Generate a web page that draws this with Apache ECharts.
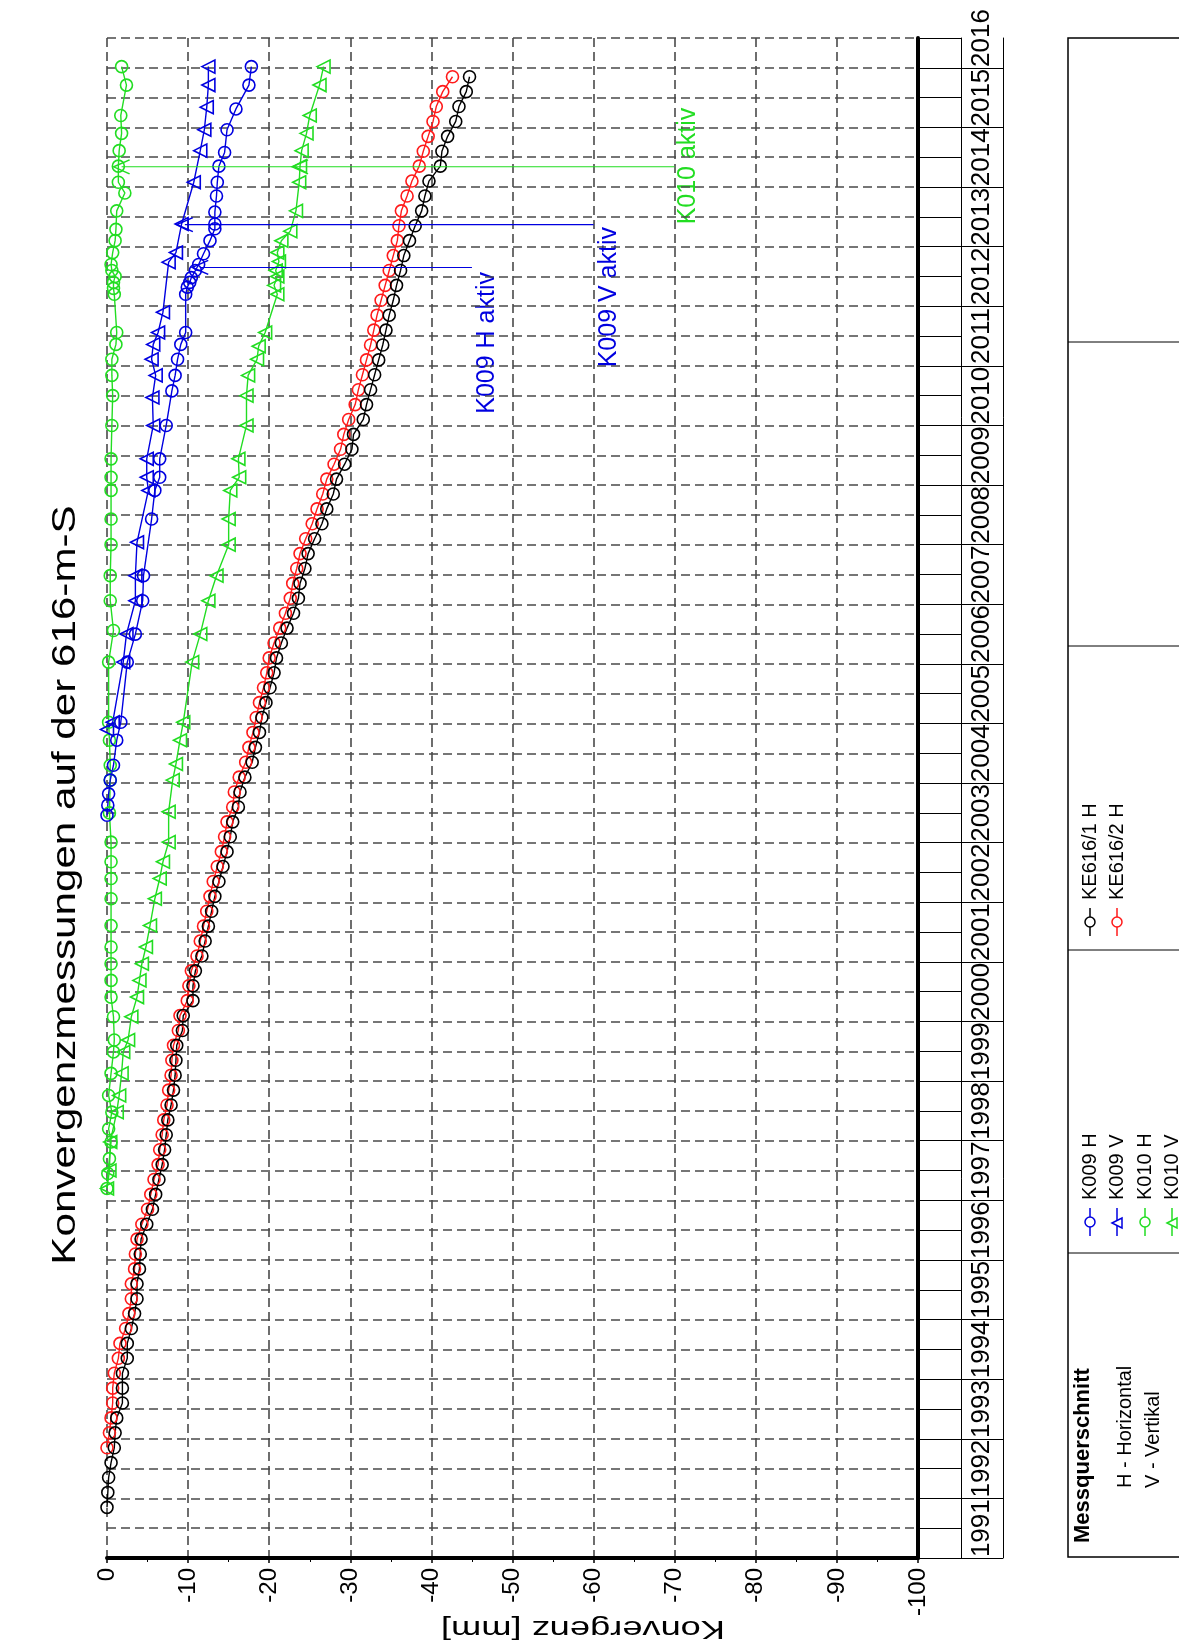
<!DOCTYPE html>
<html><head><meta charset="utf-8">
<script src="https://cdn.jsdelivr.net/npm/echarts@6/dist/echarts.min.js"></script>
<style>html,body{margin:0;padding:0;background:#fff}#c{width:1179px;height:1647px}</style>
</head><body><div id="c"></div>
<script>
// ---------- data ----------
const titleText = 'Konvergenzmessungen auf der 616-m-S';
const axisName = 'Konvergenz [mm]';
const yearLabels = [1991,1992,1993,1994,1995,1996,1997,1998,1999,2000,2001,2002,2003,2004,2005,2006,2007,2008,2009,2010,2011,2012,2013,2014,2015,2016];

const ke1_t = [1991.85,1992.1,1992.35,1992.6,1992.85,1993.1,1993.35,1993.6,1993.85,1994.1,1994.35,1994.6,1994.85,1995.1,1995.35,1995.6,1995.85,1996.1,1996.35,1996.6,1996.85,1997.1,1997.35,1997.6,1997.85,1998.1,1998.35,1998.6,1998.85,1999.1,1999.35,1999.6,1999.85,2000.1,2000.35,2000.6,2000.85,2001.1,2001.35,2001.6,2001.85,2002.1,2002.35,2002.6,2002.85,2003.1,2003.35,2003.6,2003.85,2004.1,2004.35,2004.6,2004.85,2005.1,2005.35,2005.6,2005.85,2006.1,2006.35,2006.6,2006.85,2007.1,2007.35,2007.6,2007.85,2008.1,2008.35,2008.6,2008.85,2009.1,2009.35,2009.6,2009.85,2010.1,2010.35,2010.6,2010.85,2011.1,2011.35,2011.6,2011.85,2012.1,2012.35,2012.6,2012.85,2013.1,2013.35,2013.6,2013.85,2014.1,2014.35,2014.6,2014.85,2015.1,2015.35,2015.6,2015.85];
const ke1_v = [0,-0.1,-0.2,-0.5,-0.9,-1.0,-1.2,-1.9,-1.9,-1.9,-2.5,-2.5,-3.0,-3.4,-3.7,-3.7,-4.0,-4.1,-4.2,-4.9,-5.6,-6.0,-6.4,-6.8,-7.1,-7.3,-7.5,-7.9,-8.2,-8.4,-8.5,-8.6,-9.3,-9.4,-10.6,-10.6,-10.9,-11.7,-12.1,-12.5,-12.9,-13.3,-13.8,-14.3,-14.8,-15.2,-15.5,-16.2,-16.4,-17.0,-17.9,-18.3,-18.8,-19.1,-19.6,-20.1,-20.6,-20.9,-21.5,-22.2,-23.0,-23.6,-23.8,-24.4,-24.8,-25.6,-26.5,-27.1,-27.9,-28.3,-29.3,-30.2,-30.4,-31.6,-32.0,-32.5,-33.0,-33.5,-34.0,-34.4,-34.8,-35.3,-35.7,-36.2,-36.6,-37.3,-38.0,-38.8,-39.2,-39.7,-41.1,-41.3,-42.0,-43.0,-43.4,-44.3,-44.7];

const ke2_t = [1992.85,1993.1,1993.35,1993.6,1993.85,1994.1,1994.35,1994.6,1994.85,1995.1,1995.35,1995.6,1995.85,1996.1,1996.35,1996.6,1996.85,1997.1,1997.35,1997.6,1997.85,1998.1,1998.35,1998.6,1998.85,1999.1,1999.35,1999.6,1999.85,2000.1,2000.35,2000.6,2000.85,2001.1,2001.35,2001.6,2001.85,2002.1,2002.35,2002.6,2002.85,2003.1,2003.35,2003.6,2003.85,2004.1,2004.35,2004.6,2004.85,2005.1,2005.35,2005.6,2005.85,2006.1,2006.35,2006.6,2006.85,2007.1,2007.35,2007.6,2007.85,2008.1,2008.35,2008.6,2008.85,2009.1,2009.35,2009.6,2009.85,2010.1,2010.35,2010.6,2010.85,2011.1,2011.35,2011.6,2011.85,2012.1,2012.35,2012.6,2012.85,2013.1,2013.35,2013.6,2013.85,2014.1,2014.35,2014.6,2014.85,2015.1,2015.35,2015.6,2015.85];
const ke2_v = [0,-0.3,-0.5,-0.7,-0.7,-0.9,-1.4,-1.6,-2.3,-2.7,-3.0,-3.0,-3.4,-3.5,-3.7,-4.3,-5.0,-5.4,-5.8,-6.3,-6.5,-6.8,-7.0,-7.4,-7.6,-7.9,-8.0,-8.2,-8.8,-9.0,-9.9,-10.1,-10.4,-11.1,-11.5,-11.9,-12.3,-12.7,-13.1,-13.6,-14.1,-14.5,-14.8,-15.5,-15.7,-16.3,-17.1,-17.5,-18.0,-18.4,-18.8,-19.3,-19.7,-20.0,-20.6,-21.3,-22.0,-22.6,-22.9,-23.4,-23.8,-24.5,-25.3,-25.9,-26.6,-27.1,-28.0,-28.8,-29.2,-29.8,-30.6,-31.0,-31.5,-32.0,-32.5,-32.9,-33.3,-33.8,-34.3,-34.8,-35.3,-35.8,-36.0,-36.3,-37.0,-37.6,-38.5,-39.0,-39.6,-40.2,-40.6,-41.4,-42.6];

const k9h_t = [2003.46,2003.63,2003.82,2004.05,2004.30,2004.72,2005.02,2006.03,2006.50,2007.06,2007.48,2008.43,2008.91,2009.13,2009.44,2010.00,2010.58,2010.84,2011.11,2011.36,2011.56,2012.20,2012.32,2012.40,2012.48,2012.60,2012.70,2012.88,2013.10,2013.30,2013.38,2013.58,2013.85,2014.08,2014.35,2014.58,2014.96,2015.31,2015.71,2016.02];
const k9h_v = [0,-0.1,-0.2,-0.4,-0.8,-1.2,-1.7,-2.5,-3.5,-4.4,-4.5,-5.5,-5.9,-6.5,-6.5,-7.3,-8.0,-8.4,-8.7,-9.1,-9.7,-9.7,-9.9,-10.2,-10.4,-10.9,-11.3,-11.9,-12.7,-13.3,-13.3,-13.3,-13.5,-13.6,-13.8,-14.5,-14.8,-15.9,-17.5,-17.8];

const k9v_t = [2004.90,2005.02,2006.03,2006.50,2007.06,2007.48,2008.04,2008.91,2009.13,2009.44,2010.00,2010.47,2010.84,2011.11,2011.36,2011.56,2011.90,2012.74,2012.90,2013.38,2014.08,2014.61,2014.96,2015.34,2015.71,2016.02];
const k9v_v = [0,-0.7,-2.0,-2.4,-3.5,-3.5,-3.7,-5.1,-4.9,-4.9,-5.7,-5.6,-6.0,-5.5,-5.7,-6.3,-6.9,-7.6,-8.5,-9.2,-10.7,-11.5,-12.0,-12.3,-12.5,-12.5];

const k10h_t = [1997.20,1997.45,1997.70,1997.98,1998.20,1998.48,1998.76,1999.13,1999.49,1999.69,2000.08,2000.41,2000.69,2000.97,2001.25,2001.61,2002.06,2002.40,2002.68,2003.01,2003.50,2004.05,2004.30,2004.72,2005.02,2006.03,2006.56,2007.06,2007.48,2008.00,2008.43,2008.91,2009.13,2009.44,2010.00,2010.50,2010.84,2011.11,2011.36,2011.56,2012.20,2012.30,2012.40,2012.50,2012.60,2012.70,2012.90,2013.10,2013.29,2013.60,2013.90,2014.08,2014.35,2014.61,2014.90,2015.20,2015.71,2016.02];
const k10h_v = [0,-0.1,-0.3,-0.5,-0.2,-0.6,-0.2,-0.5,-0.8,-0.9,-0.8,-0.5,-0.5,-0.5,-0.5,-0.5,-0.5,-0.5,-0.5,-0.5,-0.3,-0.4,-0.4,-0.3,-0.2,-0.2,-0.8,-0.4,-0.4,-0.5,-0.5,-0.5,-0.5,-0.5,-0.6,-0.7,-0.6,-0.6,-1.1,-1.2,-0.9,-0.8,-0.8,-1.0,-0.6,-0.5,-0.7,-1.0,-1.1,-1.2,-2.2,-1.4,-1.4,-1.5,-1.8,-1.7,-2.4,-1.8];

const k10v_t = [1997.20,1997.50,1997.98,1998.48,1998.76,1999.13,1999.49,1999.69,2000.08,2000.41,2000.69,2000.97,2001.25,2001.61,2002.06,2002.40,2002.68,2003.01,2003.52,2004.05,2004.32,2004.72,2005.02,2006.03,2006.50,2007.06,2007.48,2008.00,2008.43,2008.91,2009.13,2009.44,2010.00,2010.50,2010.84,2011.11,2011.33,2011.56,2012.20,2012.35,2012.50,2012.60,2012.75,2012.90,2013.10,2013.26,2013.60,2014.08,2014.35,2014.61,2014.90,2015.20,2015.71,2016.02];
const k10v_v = [0,-0.3,-0.4,-1.2,-1.5,-1.8,-2.0,-2.6,-3.0,-3.7,-4.0,-4.3,-4.8,-5.3,-5.9,-6.5,-6.9,-7.6,-7.6,-8.1,-8.5,-9.0,-9.4,-10.5,-11.5,-12.5,-13.5,-15.0,-15.0,-15.2,-16.3,-16.2,-17.2,-17.2,-17.4,-18.5,-18.7,-19.5,-21.0,-20.6,-21.0,-20.8,-21.2,-21.0,-21.5,-22.6,-23.3,-23.7,-23.8,-24.0,-24.6,-25.0,-26.2,-26.7];

// annotation lines: time, start value (arrow), end value
const notes = [
  {label:'K009 H aktiv', t:2012.65, from:-11.5, to:-45.0, arrows:[-11.5], color:'#0000e0'},
  {label:'K009 V aktiv', t:2013.37, from:-9.6, to:-60.0, arrows:[-9.6], color:'#0000e0'},
  {label:'K010 aktiv',   t:2014.34, from:-1.8, to:-70.0, arrows:[-1.8,-23.8], color:'#22dd22'}
];

const BLUE='#0000e0', GREEN='#22dd22', RED='#ff1a1a', BLACK='#000000';
const FONT='"Liberation Sans", Arial, sans-serif';

function pairs(ts, vs){ return ts.map((t,i)=>[vs[i], t]); }
function mkSeries(name, ts, vs, color, sym){
  return {
    name, type:'line', xAxisIndex:0, yAxisIndex:0,
    data: pairs(ts, vs),
    symbol: sym, symbolSize: sym==='circle'?12:13, symbolRotate: sym==='triangle'?90:0,
    showSymbol:true, showAllSymbol:true,
    lineStyle:{color, width:1.4},
    itemStyle:{color:'rgba(255,255,255,0)', borderColor:color, borderWidth:1.6},
    emphasis:{disabled:true}, z:3
  };
}
const ARROW='path://M14,0 L0,7 L14,14';
function noteSeries(n){
  const data=[];
  data.push({value:[n.from,n.t], symbol:ARROW, symbolSize:[16,14]});
  n.arrows.slice(1).forEach(a=>data.push({value:[a,n.t], symbol:ARROW, symbolSize:[16,14]}));
  data.push({value:[n.to,n.t], symbol:'none'});
  return {type:'line', data, showSymbol:true, lineStyle:{color:n.color,width:1.2},
    itemStyle:{color:'rgba(255,255,255,0)', borderColor:n.color, borderWidth:1.5}, emphasis:{disabled:true}, z:4};
}

const chart = echarts.init(document.getElementById('c'), null, {renderer:'canvas'});
const grid = {left:107, right:261, top:38, bottom:89};
const halfYears=[]; for(let i=0;i<yearLabels.length;i++) halfYears.push(yearLabels[i]+0.5);

const gText = (text, x, y, size, color, rot, align, extra) => Object.assign({
  type:'text', x, y, rotation:rot,
  style:{text, fill:color, font: (extra&&extra.bold?'bold ':'')+size+'px '+FONT,
    align:align||'center', verticalAlign:'middle', textAlign:align||'center', textVerticalAlign:'middle'}
}, extra&&extra.scale?{scaleX:extra.scale}:{});

const graphics = [];
graphics.push(gText(titleText, 66, 885, 34, '#000', Math.PI/2, 'center', {scale:1.24}));
graphics.push(gText(axisName, 583, 1628, 25, '#000', Math.PI, 'center', {scale:1.45}));
// annotation labels
graphics.push(gText('K009 H aktiv', 487, 272, 25, BLUE, Math.PI/2, 'right'));
graphics.push(gText('K009 V aktiv', 609, 227, 25, BLUE, Math.PI/2, 'right'));
graphics.push(gText('K010 aktiv', 688, 166, 25, GREEN, Math.PI/2, 'center'));
// legend box
graphics.push({type:'rect', shape:{x:1068, y:38, width:200, height:1519}, style:{fill:'none', stroke:'#000', lineWidth:1.5}});
[342,646,950,1253].forEach(y=>graphics.push({type:'line', shape:{x1:1068,y1:y,x2:1179,y2:y}, style:{stroke:'#000', lineWidth:1}}));
graphics.push(gText('Messquerschnitt', 1083, 1543, 22, '#000', Math.PI/2, 'left', {bold:true}));
graphics.push(gText('H - Horizontal', 1125, 1488, 20, '#000', Math.PI/2, 'left'));
graphics.push(gText('V - Vertikal', 1153, 1488, 20, '#000', Math.PI/2, 'left'));
const legItems = [
  {name:'K009 H', color:BLUE, sym:'circle', x:1090, y:1222},
  {name:'K009 V', color:BLUE, sym:'triangle', x:1117, y:1222},
  {name:'K010 H', color:GREEN, sym:'circle', x:1145, y:1222},
  {name:'K010 V', color:GREEN, sym:'triangle', x:1172, y:1222},
  {name:'KE616/1 H', color:BLACK, sym:'circle', x:1090, y:922},
  {name:'KE616/2 H', color:RED, sym:'circle', x:1117, y:922}
];
legItems.forEach(it=>{
  graphics.push({type:'line', shape:{x1:it.x,y1:it.y-14,x2:it.x,y2:it.y+14}, style:{stroke:it.color,lineWidth:1.5}});
  if(it.sym==='circle') graphics.push({type:'circle', shape:{cx:it.x,cy:it.y,r:5}, style:{fill:'#fff',stroke:it.color,lineWidth:1.5}});
  else graphics.push({type:'polygon', shape:{points:[[it.x-5,it.y+1],[it.x+5,it.y-4],[it.x+5,it.y+6]]}, style:{fill:'#fff',stroke:it.color,lineWidth:1.5}});
  graphics.push(gText(it.name, it.x, it.y-22, 20, '#000', Math.PI/2, 'left'));
});

const option = {
  animation:false,
  backgroundColor:'#fff',
  textStyle:{fontFamily:FONT},
  grid,
  xAxis:[{
    type:'value', min:-100, max:0, interval:10, inverse:true, position:'bottom',
    axisLine:{show:true, onZero:false, lineStyle:{color:'#000', width:4}},
    axisTick:{show:true, length:5, lineStyle:{color:'#000', width:1.5}},
    minorTick:{show:true, splitNumber:2, length:4, lineStyle:{color:'#000', width:1}},
    axisLabel:{rotate:90, fontSize:24, margin:10, color:'#000', fontFamily:FONT},
    splitLine:{show:true, lineStyle:{type:[9,5], color:'#4a4a4a', width:1.6}}
  }],
  yAxis:[{
    type:'value', min:1991, max:2016.5, interval:0.5, position:'right',
    axisLine:{show:true, onZero:false, lineStyle:{color:'#000', width:4}},
    axisTick:{show:true, length:43, lineStyle:{color:'#000', width:1}},
    axisLabel:{show:true, customValues:halfYears, rotate:90, margin:64, align:'center', verticalAlign:'middle',
      fontSize:26, color:'#000', fontFamily:FONT, formatter:v=>String(Math.floor(v+1e-6))},
    splitLine:{show:true, lineStyle:{type:[9,5], color:'#4a4a4a', width:1.6}}
  },{
    type:'value', min:1991, max:2016.5, position:'right', offset:43,
    axisLine:{show:true, onZero:false, lineStyle:{color:'#000', width:1}},
    axisTick:{show:true, length:42, customValues:yearLabels, lineStyle:{color:'#000', width:1}},
    axisLabel:{show:false}, splitLine:{show:false}
  },{
    type:'value', min:1991, max:2016.5, position:'right', offset:85,
    axisLine:{show:true, onZero:false, lineStyle:{color:'#000', width:1}},
    axisTick:{show:false}, axisLabel:{show:false}, splitLine:{show:false}
  }],
  series:[
    mkSeries('KE616/2 H', ke2_t, ke2_v, RED, 'circle'),
    mkSeries('KE616/1 H', ke1_t, ke1_v, BLACK, 'circle'),
    mkSeries('K010 H', k10h_t, k10h_v, GREEN, 'circle'),
    mkSeries('K010 V', k10v_t, k10v_v, GREEN, 'triangle'),
    mkSeries('K009 V', k9v_t, k9v_v, BLUE, 'triangle'),
    mkSeries('K009 H', k9h_t, k9h_v, BLUE, 'circle'),
    ...notes.map(noteSeries)
  ],
  graphic:{elements:graphics}
};
chart.setOption(option);
</script></body></html>
